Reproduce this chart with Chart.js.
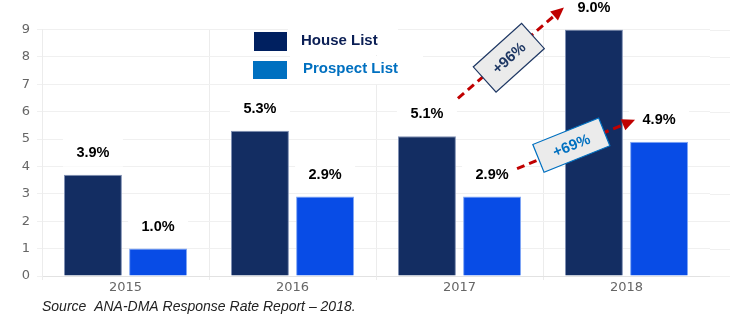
<!DOCTYPE html>
<html>
<head>
<meta charset="utf-8">
<script src="https://cdn.jsdelivr.net/npm/chart.js@4.4.1/dist/chart.umd.min.js"></script>
<style>
html,body{margin:0;padding:0;background:#fff;}
#wrap{width:754px;height:325px;position:relative;}
</style>
</head>
<body>
<div id="wrap"><canvas id="c" width="754" height="325"></canvas></div>
<script>
const categories = ['2015', '2016', '2017', '2018'];
const houseValues = [3.7, 5.3, 5.1, 9.0];
const prospectValues = [1.0, 2.9, 2.9, 4.9];
const houseLabels = ['3.9%', '5.3%', '5.1%', '9.0%'];
const prospectLabels = ['1.0%', '2.9%', '2.9%', '4.9%'];
const seriesNames = ['House List', 'Prospect List'];
const growthLabels = ['+96%', '+69%'];
const sourceText = 'Source  ANA-DMA Response Rate Report \u2013 2018.';

const HOUSE = '#132d62', PROSPECT = '#084ce6';
const GRID = '#f0f0f0';

function arrow(ctx, x1, y1, x2, y2) {
  const ang = Math.atan2(y2 - y1, x2 - x1);
  const head = 13;
  const ex = x2 - Math.cos(ang) * head * 0.8, ey = y2 - Math.sin(ang) * head * 0.8;
  ctx.save();
  ctx.strokeStyle = '#c00000';
  ctx.fillStyle = '#c00000';
  ctx.lineWidth = 3;
  ctx.setLineDash([8, 5]);
  ctx.beginPath(); ctx.moveTo(x1, y1); ctx.lineTo(ex, ey); ctx.stroke();
  ctx.setLineDash([]);
  ctx.beginPath();
  ctx.moveTo(x2, y2);
  ctx.lineTo(x2 - Math.cos(ang) * head + Math.sin(ang) * 6, y2 - Math.sin(ang) * head - Math.cos(ang) * 6);
  ctx.lineTo(x2 - Math.cos(ang) * head - Math.sin(ang) * 6, y2 - Math.sin(ang) * head + Math.cos(ang) * 6);
  ctx.closePath(); ctx.fill();
  ctx.restore();
}
function tag(ctx, cx, cy, w, h, deg, text, color) {
  ctx.save();
  ctx.translate(cx, cy);
  ctx.rotate(deg * Math.PI / 180);
  ctx.fillStyle = '#ebebeb';
  ctx.fillRect(-w / 2, -h / 2, w, h);
  ctx.strokeStyle = color; ctx.lineWidth = 1.2;
  ctx.strokeRect(-w / 2, -h / 2, w, h);
  ctx.fillStyle = color;
  ctx.font = 'bold 15px "Liberation Sans", Arial, sans-serif';
  ctx.textAlign = 'center'; ctx.textBaseline = 'middle';
  ctx.fillText(text, 0, 1);
  ctx.restore();
}

const overlay = {
  id: 'overlay',
  beforeDatasetsDraw(chart) {
    const ctx = chart.ctx, a = chart.chartArea, y = chart.scales.y;
    ctx.save();
    ctx.strokeStyle = GRID; ctx.lineWidth = 1;
    y.ticks.forEach(t => {
      const py = Math.round(y.getPixelForValue(t.value)) + 0.5;
      ctx.beginPath(); ctx.moveTo(a.right, py); ctx.lineTo(a.right + 20, py); ctx.stroke();
    });
    ctx.restore();
  },
  afterDraw(chart) {
    const ctx = chart.ctx;
    const hMeta = chart.getDatasetMeta(0).data, pMeta = chart.getDatasetMeta(1).data;
    const pos = [];
    ctx.save();
    [[hMeta, houseLabels], [pMeta, prospectLabels]].forEach(([els, labs], di) => {
      pos[di] = [];
      els.forEach((el, i) => {
        const lx = el.x, ly = el.y - 22;
        pos[di][i] = {x: lx, y: ly};
        ctx.fillStyle = '#fff';
        ctx.fillRect(lx - 30, ly - 14, 60, 28);
        ctx.fillStyle = '#000';
        ctx.font = 'bold 14.5px "Liberation Sans", Arial, sans-serif';
        ctx.textAlign = 'center'; ctx.textBaseline = 'middle';
        ctx.fillText(labs[i], lx, ly);
      });
    });
    ctx.fillStyle = '#fff';
    ctx.fillRect(288, 27, 110, 28);
    ctx.fillRect(290, 56, 133, 28);
    ctx.fillStyle = '#002060'; ctx.fillRect(254, 32, 33, 19);
    ctx.fillStyle = '#0070c0'; ctx.fillRect(253, 61, 34, 18);
    ctx.font = 'bold 15px "Liberation Sans", Arial, sans-serif';
    ctx.textAlign = 'left'; ctx.textBaseline = 'middle';
    ctx.fillStyle = '#0b1f55'; ctx.fillText(seriesNames[0], 301, 41);
    ctx.fillStyle = '#0070c0'; ctx.fillText(seriesNames[1], 303, 69);
    const h2 = pos[0][2], h3 = pos[0][3], p2 = pos[1][2], p3 = pos[1][3];
    const s1 = {x: h2.x + 31, y: h2.y - 16}, e1 = {x: h3.x - 30, y: h3.y};
    arrow(ctx, s1.x, s1.y, e1.x, e1.y);
    tag(ctx, s1.x + 0.48 * (e1.x - s1.x), s1.y + 0.48 * (e1.y - s1.y) + 3, 65, 34, -42, growthLabels[0], '#1f3864');
    const s2 = {x: p2.x + 25, y: p2.y - 6}, e2 = {x: p3.x - 24, y: p3.y};
    arrow(ctx, s2.x, s2.y, e2.x, e2.y);
    tag(ctx, s2.x + 0.46 * (e2.x - s2.x), s2.y + 0.46 * (e2.y - s2.y) - 1, 71, 30, -22, growthLabels[1], '#0070c0');
    ctx.fillStyle = '#222';
    ctx.font = 'italic 14px "Liberation Sans", Arial, sans-serif';
    ctx.textAlign = 'left'; ctx.textBaseline = 'middle';
    ctx.fillText(sourceText, 42, 307);
    ctx.restore();
  }
};

new Chart(document.getElementById('c'), {
  type: 'bar',
  data: {
    labels: categories,
    datasets: [
      {label: seriesNames[0], data: houseValues, backgroundColor: HOUSE, borderColor: '#8090b4', borderWidth: 1,
       categoryPercentage: 0.78, barPercentage: 0.89},
      {label: seriesNames[1], data: prospectValues, backgroundColor: PROSPECT, borderColor: '#7fa6f5', borderWidth: 1,
       categoryPercentage: 0.78, barPercentage: 0.89}
    ]
  },
  options: {
    responsive: false,
    animation: false,
    devicePixelRatio: 1,
    layout: {padding: {left: 0, right: 44, top: 29.5, bottom: 27}},
    plugins: {legend: {display: false}, tooltip: {enabled: false}},
    scales: {
      x: {
        grid: {color: c => (c.tick ? '#ececec' : 'rgba(0,0,0,0)'), tickLength: 4, offset: true},
        border: {color: '#e2e2e2'},
        ticks: {color: '#666', padding: 0, font: {family: '"DejaVu Sans", sans-serif', size: 13}},
        afterFit: s => { s.height = 22; }
      },
      y: {
        min: 0, max: 9,
        grid: {color: GRID, tickLength: 5},
        border: {color: '#ececec'},
        ticks: {stepSize: 1, color: '#666', padding: 7, font: {family: '"DejaVu Sans", sans-serif', size: 13}},
        afterFit: s => { s.width = 42; }
      }
    }
  },
  plugins: [overlay]
});
</script>
</body>
</html>
